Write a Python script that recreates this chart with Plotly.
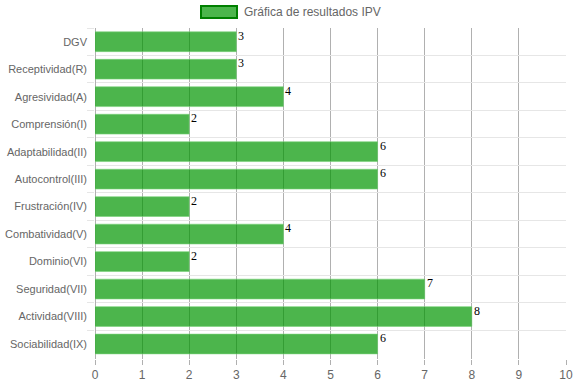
import plotly.graph_objects as go

categories = ["DGV", "Receptividad(R)", "Agresividad(A)", "Comprensión(I)",
              "Adaptabilidad(II)", "Autocontrol(III)", "Frustración(IV)",
              "Combatividad(V)", "Dominio(VI)", "Seguridad(VII)",
              "Actividad(VIII)", "Sociabilidad(IX)"]
values = [3, 3, 4, 2, 6, 6, 2, 4, 2, 7, 8, 6]
series_name = "Gráfica de resultados IPV"
x_ticks = list(range(0, 11))

fig = go.Figure()
fig.add_trace(go.Bar(
    x=values, y=categories, orientation="h", name=series_name,
    marker=dict(color="rgba(0,150,0,0.7)", line=dict(color="rgba(120,210,120,0.6)", width=1)),
    showlegend=False, hoverinfo="skip",
))

for v, c in zip(values, categories):
    fig.add_annotation(x=v, y=c, text=str(v), showarrow=False,
                       xanchor="left", yanchor="top", xshift=0, yshift=15,
                       font=dict(family="Liberation Serif", size=12, color="#000"))

# legend replica
PW, PH = 471, 331
fig.add_shape(type="rect", xref="paper", yref="paper",
              x0=(201 - 95) / PW, x1=(237 - 95) / PW,
              y0=(359 - 18) / PH, y1=(359 - 6) / PH,
              fillcolor="rgb(76,182,76)", line=dict(color="rgb(0,128,0)", width=2))
fig.add_annotation(text=series_name, xref="paper", yref="paper",
                   x=(242 - 95) / PW, y=(359 - 12) / PH,
                   xanchor="left", yanchor="middle", showarrow=False,
                   font=dict(family="Liberation Sans", size=12, color="#666"))

fig.update_layout(
    width=574, height=383,
    margin=dict(l=95, r=8, t=28, b=24, autoexpand=False),
    plot_bgcolor="white", paper_bgcolor="white",
    bargap=0.28,
    font=dict(family="Liberation Sans", size=12, color="#666"),
    xaxis=dict(range=[0, 10], tickvals=x_ticks, showgrid=True,
               gridcolor="#b0b0b0", gridwidth=1, zeroline=True,
               zerolinecolor="#b0b0b0", zerolinewidth=1,
               ticks="outside", ticklen=5, tickcolor="#b0b0b0",
               tickfont=dict(family="Liberation Sans", size=12, color="#666"),
               showline=False, fixedrange=True, automargin=False,
               ticklabeloverflow="allow"),
    yaxis=dict(categoryorder="array", categoryarray=categories,
               autorange="reversed", tickson="boundaries",
               showgrid=True, gridcolor="#e6e6e6", gridwidth=1,
               ticks="outside", ticklen=7, tickcolor="#e6e6e6",
               tickfont=dict(family="Liberation Sans", size=11, color="#666"),
               showline=False, zeroline=False, fixedrange=True,
               automargin=False, ticklabelstandoff=7),
)
fig.write_html("out.html", config={"displayModeBar": False},
               post_script="document.body.style.margin='0';document.body.style.overflow='hidden';")
